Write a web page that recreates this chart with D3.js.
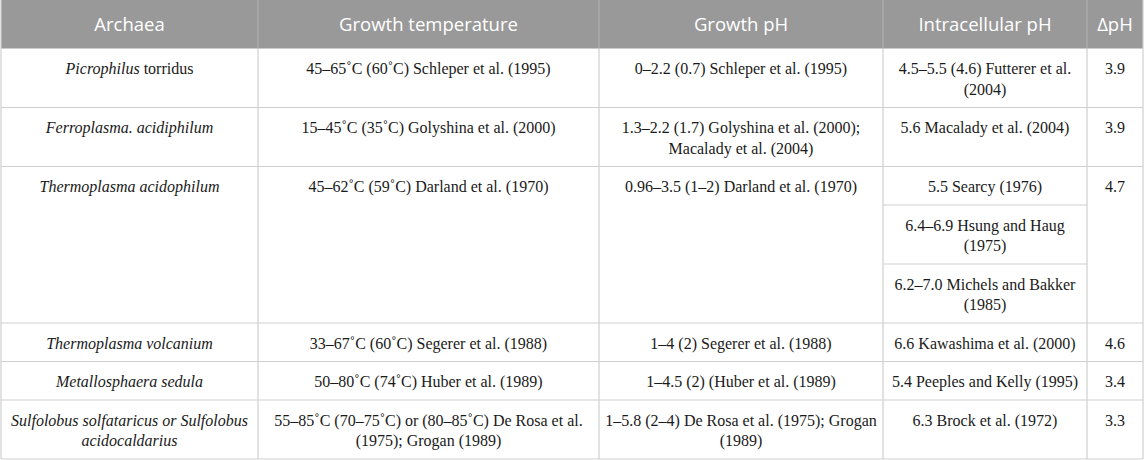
<!DOCTYPE html>
<html>
<head>
<meta charset="utf-8">
<script src="https://cdn.jsdelivr.net/npm/d3@7"></script>
<style>
  html, body { margin: 0; padding: 0; background: #fff; }
  svg { display: block; }
</style>
</head>
<body>
<div id="chart"></div>
<script>
// ---- Table content (one entry per row; '|' = line break, *...* = italic) ----
const headers = ['Archaea', 'Growth temperature', 'Growth pH', 'Intracellular pH', '\u0394pH']

const archaea = [
  '*Picrophilus* torridus',
  '*Ferroplasma. acidiphilum*',
  '*Thermoplasma acidophilum*',
  '*Thermoplasma volcanium*',
  '*Metallosphaera sedula*',
  '*Sulfolobus solfataricus or Sulfolobus*|*acidocaldarius*'
]

const growthTemp = [
  '45\u201365\u02DAC (60\u02DAC) Schleper et al. (1995)',
  '15\u201345\u02DAC (35\u02DAC) Golyshina et al. (2000)',
  '45\u201362\u02DAC (59\u02DAC) Darland et al. (1970)',
  '33\u201367\u02DAC (60\u02DAC) Segerer et al. (1988)',
  '50\u201380\u02DAC (74\u02DAC) Huber et al. (1989)',
  '55\u201385\u02DAC (70\u201375\u02DAC) or (80\u201385\u02DAC) De Rosa et al.|(1975); Grogan (1989)'
]

const growthPH = [
  '0\u20132.2 (0.7) Schleper et al. (1995)',
  '1.3\u20132.2 (1.7) Golyshina et al. (2000);|Macalady et al. (2004)',
  '0.96\u20133.5 (1\u20132) Darland et al. (1970)',
  '1\u20134 (2) Segerer et al. (1988)',
  '1\u20134.5 (2) (Huber et al. (1989)',
  '1\u20135.8 (2\u20134) De Rosa et al. (1975); Grogan|(1989)'
]

// each row may hold several stacked sub-cells
const intracellularPH = [
  ['4.5\u20135.5 (4.6) Futterer et al.|(2004)'],
  ['5.6 Macalady et al. (2004)'],
  ['5.5 Searcy (1976)', '6.4\u20136.9 Hsung and Haug|(1975)', '6.2\u20137.0 Michels and Bakker|(1985)'],
  ['6.6 Kawashima et al. (2000)'],
  ['5.4 Peeples and Kelly (1995)'],
  ['6.3 Brock et al. (1972)']
]

const deltaPH = ['3.9', '3.9', '4.7', '4.6', '3.4', '3.3']

// ---- Layout ----
const width = 1145
const height = 460
const colEdges = [1, 258, 599, 883, 1087, 1143]
const headerH = 48.5
const lineH = 20.5
const padV = 18
const top0 = 0

const serif = '"Liberation Serif","Times New Roman",serif'
const sans = '"Open Sans","Noto Sans",sans-serif'
const gridColor = '#cfcfcf'
const textColor = '#1a1a1a'

const nLines = s => s.split('|').length
const cellH = s => nLines(s) * lineH + padV

// row heights: max of single cells and the stacked intracellular sub-cells
const rows = archaea.map((a, i) => {
  const subs = intracellularPH[i].map(cellH)
  const h = Math.max(cellH(a), cellH(growthTemp[i]), cellH(growthPH[i]), d3.sum(subs))
  return { i, h, subs }
})
let y = top0 + headerH
rows.forEach(r => { r.y = y; y += r.h })
const tableBottom = y

const svg = d3.select('#chart').append('svg')
  .attr('width', width)
  .attr('height', height)
  .attr('viewBox', `0 0 ${width} ${height}`)

// ---- Header ----
svg.append('rect')
  .attr('x', colEdges[0]).attr('y', top0)
  .attr('width', colEdges[5] - colEdges[0]).attr('height', headerH)
  .attr('fill', '#999999')

svg.append('g').selectAll('text')
  .data(headers)
  .join('text')
  .attr('x', (d, i) => (colEdges[i] + colEdges[i + 1]) / 2)
  .attr('y', top0 + headerH / 2 + 7)
  .attr('text-anchor', 'middle')
  .attr('fill', '#ffffff')
  .attr('font-family', sans)
  .attr('font-size', '18.5px')
  .text(d => d)

// ---- Cell text helper ----
function drawCell(g, str, col, yTop) {
  const cx = (colEdges[col] + colEdges[col + 1]) / 2
  str.split('|').forEach((line, li) => {
    const t = g.append('text')
      .attr('x', cx)
      .attr('y', yTop + 25.5 + li * lineH)
      .attr('text-anchor', 'middle')
      .attr('fill', textColor)
      .attr('font-family', serif)
      .attr('font-size', '16px')
    line.split(/(\*[^*]+\*)/).filter(s => s.length).forEach(seg => {
      const ital = seg.startsWith('*')
      t.append('tspan')
        .attr('font-style', ital ? 'italic' : 'normal')
        .text(ital ? seg.slice(1, -1) : seg)
    })
  })
}

const body = svg.append('g').attr('class', 'body')
rows.forEach(r => {
  drawCell(body, archaea[r.i], 0, r.y)
  drawCell(body, growthTemp[r.i], 1, r.y)
  drawCell(body, growthPH[r.i], 2, r.y)
  drawCell(body, deltaPH[r.i], 4, r.y)
  let sy = r.y
  intracellularPH[r.i].forEach((s, k) => {
    drawCell(body, s, 3, sy)
    sy += r.subs[k]
    // sub-cell separator inside column 3
    if (k < intracellularPH[r.i].length - 1) {
      body.append('line')
        .attr('x1', colEdges[3]).attr('x2', colEdges[4])
        .attr('y1', sy).attr('y2', sy)
        .attr('stroke', gridColor).attr('stroke-width', 1.2)
    }
  })
})

// ---- Grid lines ----
const grid = svg.append('g').attr('class', 'grid')
grid.selectAll('line.h')
  .data(rows)
  .join('line')
  .attr('class', 'h')
  .attr('x1', colEdges[0]).attr('x2', colEdges[5])
  .attr('y1', d => d.y + d.h).attr('y2', d => d.y + d.h)
  .attr('stroke', gridColor).attr('stroke-width', 1.2)

grid.selectAll('line.v')
  .data(colEdges)
  .join('line')
  .attr('class', 'v')
  .attr('x1', d => d).attr('x2', d => d)
  .attr('y1', (d, i) => (i === 0 || i === 5) ? top0 : top0 + headerH)
  .attr('y2', tableBottom)
  .attr('stroke', gridColor).attr('stroke-width', 1.2)

// thin lighter dividers inside the header
grid.selectAll('line.hv')
  .data(colEdges.slice(1, 5))
  .join('line')
  .attr('class', 'hv')
  .attr('x1', d => d).attr('x2', d => d)
  .attr('y1', top0).attr('y2', top0 + headerH)
  .attr('stroke', '#b3b3b3').attr('stroke-width', 1)
</script>
</body>
</html>
